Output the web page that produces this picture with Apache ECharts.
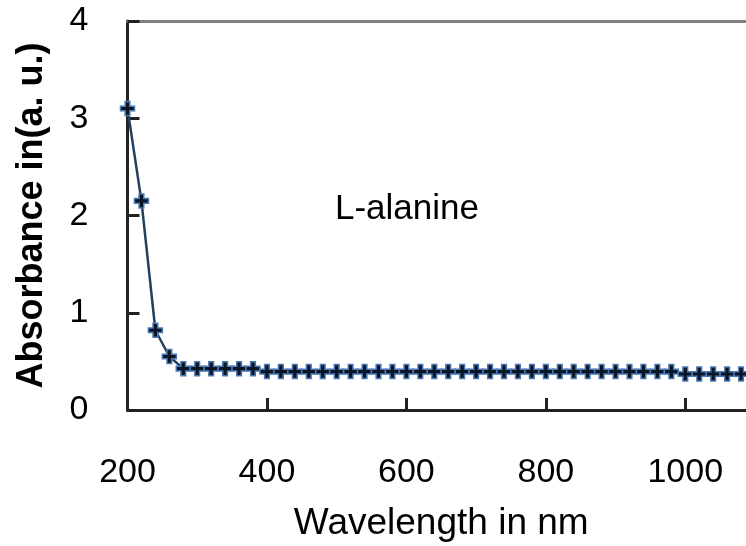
<!DOCTYPE html>
<html>
<head>
<meta charset="utf-8">
<script src="https://cdn.jsdelivr.net/npm/echarts@6/dist/echarts.min.js"></script>
<style>html,body{margin:0;padding:0;background:#fff;}#c{width:746px;height:546px;}</style>
</head>
<body>
<div id="c"></div>
<script>
var wavelengths = [200,220,240,260,280,300,320,340,360,380,400,420,440,460,480,500,520,540,560,580,600,620,640,660,680,700,720,740,760,780,800,820,840,860,880,900,920,940,960,980,1000,1020,1040,1060,1080];
var absorbance = [3.10,2.15,0.82,0.55,0.425,0.425,0.425,0.425,0.425,0.425,0.395,0.395,0.395,0.395,0.395,0.395,0.395,0.395,0.395,0.395,0.395,0.395,0.395,0.395,0.395,0.395,0.395,0.395,0.395,0.395,0.395,0.395,0.395,0.395,0.395,0.395,0.395,0.395,0.395,0.395,0.37,0.37,0.37,0.37,0.37];
var xTicks = [200,400,600,800,1000];
var yTicks = [0,1,2,3,4];
var seriesLabel = 'L-alanine';
var xTitle = 'Wavelength in nm';
var yTitle = 'Absorbance in(a. u.)';

var data = wavelengths.map(function(w, i){ return [w, absorbance[i]]; });
var font = 'Liberation Sans, Arial, sans-serif';
var chart = echarts.init(document.getElementById('c'), null, {renderer:'canvas'});
chart.setOption({
  animation: false,
  backgroundColor: '#fff',
  grid: {left: 127.5, top: 21, height: 389, width: 627.5, outerBoundsMode: 'none', containLabel: false},
  xAxis: [{
    type: 'value', min: 200, max: 1100, interval: 200,
    axisLine: {show: true, onZero: false, lineStyle: {color: '#222', width: 3}},
    axisTick: {show: true, inside: true, length: 12, lineStyle: {color: '#222', width: 3}},
    axisLabel: {show: true, margin: 46, fontSize: 34, fontFamily: font, color: '#000', showMaxLabel: false,
      formatter: function(v){ return xTicks.indexOf(v) >= 0 ? String(v) : ''; }},
    splitLine: {show: false},
    name: xTitle, nameLocation: 'middle', nameGap: 95,
    nameTextStyle: {fontSize: 37, fontFamily: font, color: '#000'}
  }, {
    type: 'value', position: 'top', min: 200, max: 1100,
    axisLine: {show: true, onZero: false, lineStyle: {color: '#808080', width: 3}},
    axisTick: {show: false}, axisLabel: {show: false}, splitLine: {show: false}
  }],
  yAxis: {
    type: 'value', min: 0, max: 4, interval: 1,
    axisLine: {show: true, onZero: false, lineStyle: {color: '#222', width: 3}},
    axisTick: {show: true, inside: true, length: 12, lineStyle: {color: '#222', width: 3}},
    axisLabel: {margin: 39, fontSize: 34, fontFamily: font, color: '#000',
      formatter: function(v){ return yTicks.indexOf(v) >= 0 ? String(v) : ''; }},
    splitLine: {show: false},
    name: yTitle, nameLocation: 'middle', nameGap: 77,
    nameTextStyle: {fontSize: 36, fontWeight: 'bold', fontFamily: font, color: '#000'}
  },
  series: [{
    type: 'line', data: data, xAxisIndex: 0,
    lineStyle: {color: '#24405f', width: 2.5},
    symbol: 'path://M4,0 L8,0 L8,4 L12,4 L12,8 L8,8 L8,12 L4,12 L4,8 L0,8 L0,4 L4,4 Z',
    symbolSize: 14,
    itemStyle: {color: '#0a1525', borderColor: '#4a78b5', borderWidth: 1.5},
    z: 3
  }],
  graphic: [{
    type: 'text', left: 335, top: 192,
    style: {text: seriesLabel, font: '35px Liberation Sans, Arial, sans-serif', fill: '#000'}
  }]
});
</script>
</body>
</html>
